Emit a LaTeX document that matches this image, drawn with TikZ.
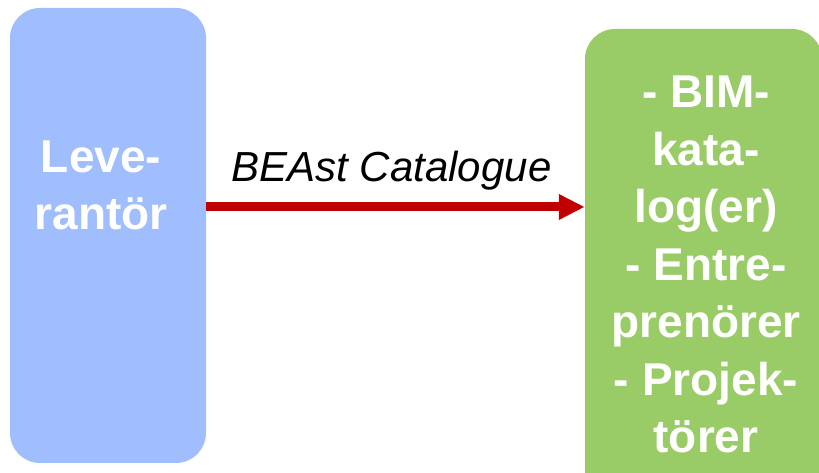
\documentclass[tikz,border=0pt]{standalone}
\usepackage{fontspec}
\setmainfont{Liberation Sans}
\usetikzlibrary{arrows.meta}
\definecolor{levblue}{HTML}{A0BDFE}
\definecolor{katgreen}{HTML}{99CC66}
\definecolor{flowred}{HTML}{C00000}
\begin{document}
\begin{tikzpicture}[x=1pt,y=1pt,
        box/.style={rounded corners=30pt, inner sep=0pt, draw=none},
        boxtext/.style={text=white, align=center, inner sep=0pt, anchor=base,
            font=\fontsize{46}{57.5}\selectfont\bfseries},
        flow/.style={flowred, line width=9pt, -{Triangle[length=26pt,width=24pt]}}]
        \useasboundingbox (0,0) rectangle (819,473);
        \clip (0,0) rectangle (819,473);
        \node[box, fill=levblue, minimum width=196pt, minimum height=455pt] (lev) at (108,237.5) {};
        \node[box, fill=katgreen, minimum width=237pt, minimum height=484pt] (kat) at (703.5,202) {};
        \node[boxtext] (levtext) at (101,243) {Leve-\\rantör};
        \node[boxtext] (kattext) at (706,20) {- BIM-\\kata-\\log(er)\\- Entre-\\prenörer\\- Projek-\\törer};
        \draw[flow] (lev.east |- 0,266) -- (kat.west |- 0,266)
            node[midway, above=12pt, xshift=-4pt, inner sep=0pt, text=black, font=\fontsize{42}{50}\selectfont\itshape] (flowtext) {BEAst Catalogue};
\end{tikzpicture}
\end{document}
